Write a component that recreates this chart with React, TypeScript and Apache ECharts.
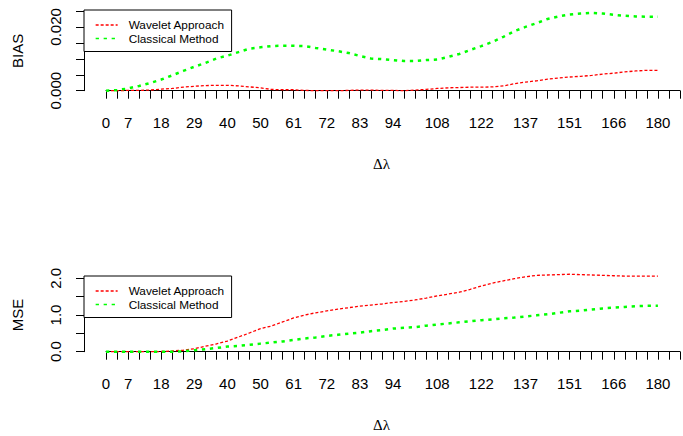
import React, { useEffect, useRef } from 'react';
import * as echarts from 'echarts';

// x categories (angle difference, degrees) — one per tick
const categories = ['0','4','7','11','14','18','22','25','29','32','36','40','43','47','50','54','58','61','65','68','72','76','79','83','86','90','94','97','101','104','108','112','115','119','122','126','130','133','137','140','144','148','151','155','158','162','166','169','173','176','180','184','187'];
const shownXLabels = ['0','7','18','29','40','50','61','72','83','94','108','122','137','151','166','180'];

// BIAS panel
const biasWavelet = [0,0,0.0001,0.0001,0.0002,0.0005,0.0007,0.0011,0.0014,0.0016,0.0017,0.0017,0.0015,0.0012,0.0009,0.0004,0.0003,0.0003,0.0001,0,0,0,0.0001,0.0002,0.0002,0.0001,0.0001,0,0.0002,0.0004,0.0007,0.0009,0.0010,0.0011,0.0011,0.0012,0.0015,0.0022,0.0027,0.0031,0.0036,0.0040,0.0043,0.0045,0.0048,0.0052,0.0055,0.0059,0.0062,0.0064,0.0064];
const biasClassical = [0,0.0002,0.0007,0.0015,0.0024,0.0035,0.0048,0.0062,0.0075,0.0087,0.0101,0.0110,0.0121,0.0132,0.0136,0.0140,0.0141,0.0141,0.0140,0.0134,0.0129,0.0124,0.0118,0.0109,0.0101,0.0099,0.0096,0.0093,0.0093,0.0096,0.0098,0.0106,0.0115,0.0128,0.0140,0.0153,0.0169,0.0187,0.0200,0.0212,0.0225,0.0233,0.0239,0.0242,0.0244,0.0242,0.0238,0.0235,0.0233,0.0232,0.0232];

// MSE panel
const mseWavelet = [0,0,0,0,0,0.005,0.02,0.04,0.08,0.15,0.21,0.29,0.40,0.51,0.63,0.70,0.81,0.92,1.00,1.06,1.11,1.16,1.20,1.24,1.27,1.30,1.34,1.37,1.41,1.46,1.52,1.57,1.62,1.70,1.79,1.87,1.93,1.99,2.04,2.08,2.09,2.10,2.11,2.10,2.09,2.08,2.07,2.06,2.06,2.06,2.06];
const mseClassical = [0,0,0,0,0,0,0,0.01,0.04,0.07,0.10,0.14,0.16,0.19,0.22,0.25,0.28,0.32,0.36,0.39,0.43,0.46,0.49,0.52,0.56,0.59,0.63,0.65,0.67,0.71,0.74,0.77,0.80,0.83,0.86,0.88,0.91,0.93,0.96,0.99,1.02,1.06,1.10,1.12,1.15,1.18,1.20,1.22,1.24,1.25,1.25];

// y-axis ticks and which of them carry labels
const biasTicks = { min: 0, max: 0.025, step: 0.005 };
const biasLabels = [{ v: 0, t: '0.000' }, { v: 0.02, t: '0.020' }];
const mseTicks = { min: 0, max: 2.0, step: 0.5 };
const mseLabels = [{ v: 0, t: '0.0' }, { v: 1, t: '1.0' }, { v: 2, t: '2.0' }];

const seriesNames = ['Wavelet Approach', 'Classical Method'];

export default function App() {
  const ref = useRef<HTMLDivElement>(null);
  useEffect(() => {
    document.body.style.margin = '0';
    const chart = echarts.init(ref.current!, null, { renderer: 'svg' });
    const font = '"Liberation Sans", Arial, sans-serif';
    const black = '#000';

    const xAxis = (gridIndex: number) => ({
      type: 'category',
      gridIndex,
      data: categories,
      boundaryGap: false,
      offset: 4.3,
      axisLine: { show: true, lineStyle: { color: black, width: 1 } },
      axisTick: { show: true, interval: 0, length: 8, lineStyle: { color: black, width: 1 } },
      axisLabel: {
        interval: (_i: number, v: string) => shownXLabels.includes(v),
        margin: 20,
        fontSize: 15,
        color: black,
        fontFamily: font,
      },
      splitLine: { show: false },
    });

    const yAxis = (gridIndex: number, name: string, ticks: any, labels: any[]) => ({
      type: 'value',
      gridIndex,
      min: ticks.min,
      max: ticks.max,
      interval: ticks.step,
      offset: 22,
      name,
      nameLocation: 'middle',
      nameGap: 59,
      nameTextStyle: { fontSize: 15, color: black, fontFamily: font },
      axisLine: { show: true, lineStyle: { color: black, width: 1 } },
      axisTick: { show: true, length: 8, lineStyle: { color: black, width: 1 } },
      axisLabel: {
        rotate: 90,
        margin: 21,
        fontSize: 15,
        color: black,
        fontFamily: font,
        formatter: (v: number) => {
          const f = labels.find((l) => Math.abs(l.v - v) < 1e-9);
          return f ? f.t : '';
        },
      },
      splitLine: { show: false },
    });

    const redStyle = { color: '#FF0000', width: 1.3, type: [3, 2] };
    const greenStyle = { color: '#00FF00', width: 2.5, type: [3.3, 4.7] };

    const mkSeries = (name: string, idx: number, data: number[], style: any) => ({
      name,
      type: 'line',
      xAxisIndex: idx,
      yAxisIndex: idx,
      data,
      symbol: 'none',
      clip: false,
      lineStyle: style,
      itemStyle: { color: style.color },
    });

    const legend = (top: number) => ({
      left: 84,
      top,
      orient: 'vertical',
      data: seriesNames,
      backgroundColor: '#fff',
      borderColor: black,
      borderWidth: 1,
      borderRadius: 0,
      padding: [9, 7, 7, 11],
      itemWidth: 22,
      itemHeight: 14,
      itemGap: 1.5,
      itemStyle: { opacity: 0 },
      lineStyle: { width: 1.3 },
      textStyle: { fontSize: 11.8, color: black, fontFamily: font, padding: [0, 0, 0, 6] },
    });

    chart.setOption({
      animation: false,
      backgroundColor: '#fff',
      grid: [
        { left: 106, top: 11, width: 574, height: 79.7 },
        { left: 106, top: 278.3, width: 574, height: 73.4 },
      ],
      xAxis: [xAxis(0), xAxis(1)],
      yAxis: [
        yAxis(0, 'BIAS', biasTicks, biasLabels),
        yAxis(1, 'MSE', mseTicks, mseLabels),
      ],
      legend: [legend(10), legend(276)],
      series: [
        mkSeries(seriesNames[0], 0, biasWavelet, redStyle),
        mkSeries(seriesNames[1], 0, biasClassical, greenStyle),
        mkSeries(seriesNames[0], 1, mseWavelet, redStyle),
        mkSeries(seriesNames[1], 1, mseClassical, greenStyle),
      ],
      graphic: [
        { type: 'text', left: 373, top: 156, style: { text: 'Δλ', fontSize: 15, fill: black, fontFamily: '"Liberation Serif", "DejaVu Serif", serif' } },
        { type: 'text', left: 373, top: 417, style: { text: 'Δλ', fontSize: 15, fill: black, fontFamily: '"Liberation Serif", "DejaVu Serif", serif' } },
      ],
    });
    return () => chart.dispose();
  }, []);
  return <div ref={ref} style={{ width: 683, height: 436, position: 'absolute', left: 0, top: 0 }} />;
}
